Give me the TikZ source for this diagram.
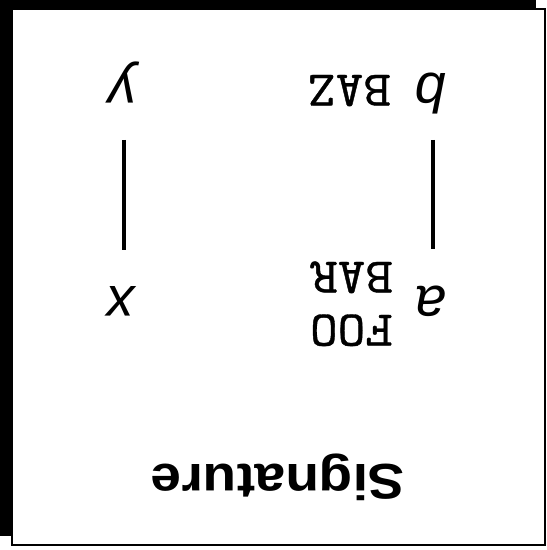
\documentclass[tikz,border=0pt]{standalone}
\usepackage{fontspec}
\newfontfamily\sansv{Liberation Sans}
\newfontfamily\sigf{Liberation Sans}[FakeStretch=1.1]
\newfontfamily\monof{lmmono10-regular.otf}[FakeStretch=1.05,FakeBold=0.8]
\begin{document}
\begin{tikzpicture}[x=1pt,y=1pt,
  var/.style={font=\sansv\itshape\fontsize{56}{60}\selectfont, inner sep=0pt, anchor=base},
  mono/.style={font=\monof\fontsize{50}{53}\selectfont, inner sep=0pt, anchor=base west},
  title/.style={font=\sigf\bfseries\fontsize{50}{56}\selectfont, inner sep=0pt, anchor=base},
  conn/.style={line width=4.5pt},
  ]
\useasboundingbox (0,0) rectangle (547,550);
\begin{scope}[rotate around={180:(273.5,275)}, transform shape]
\fill[black] (11,0) rectangle (547,536);
\draw[fill=white, line width=2pt] (2,9) rectangle (535,545);
\node[title] (sig) at (269,464) {Signature};
\node[var] (b) at (116,74) {b};
\node[mono] (baz) at (156,75) {BAZ};
\node[var] (y) at (425,74) {y};
\node[var] (a) at (116,287) {a};
\node[mono] (foo) at (154,315) {FOO};
\node[mono] (bar) at (154,262) {BAR};
\node[var] (x) at (427,287) {x};
\draw[conn] ([xshift=-2pt,yshift=25pt]b.north) -- ([xshift=-2pt,yshift=-37pt]a.south);
\draw[conn] ([xshift=-2pt,yshift=36pt]y.north) -- ([xshift=-4pt,yshift=-37pt]x.south);
\end{scope}
\end{tikzpicture}
\end{document}
